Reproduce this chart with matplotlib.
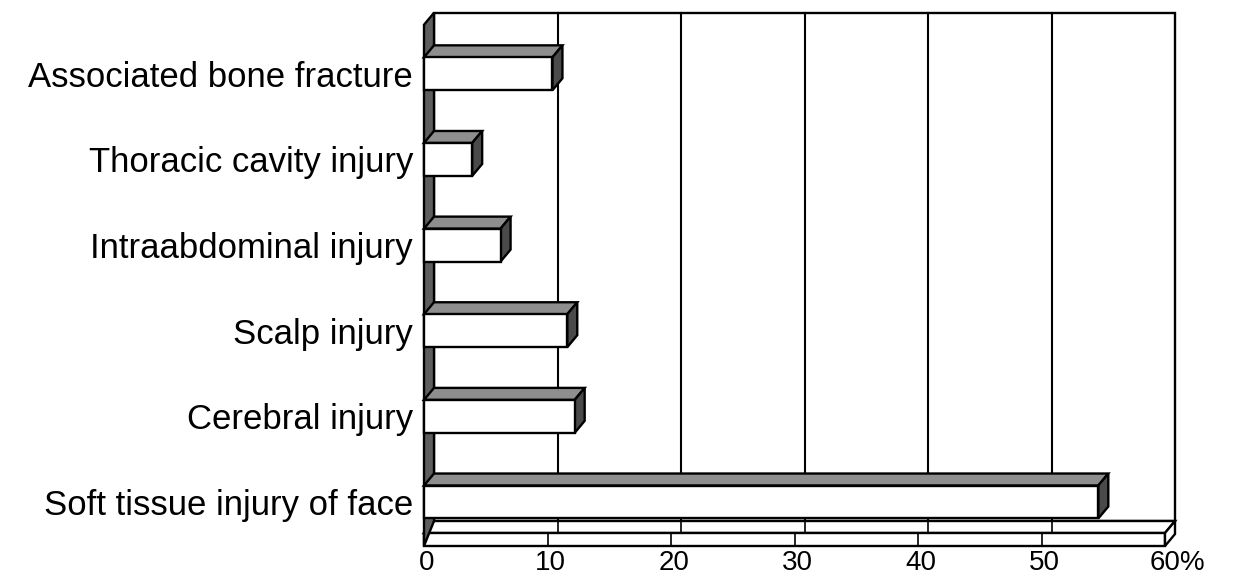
import matplotlib.pyplot as plt
from matplotlib.patches import Polygon, Rectangle

plt.rcParams['font.family'] = ['Liberation Sans', 'DejaVu Sans']

# Data (bottom to top)
categories = ['Soft tissue injury of face', 'Cerebral injury', 'Scalp injury',
              'Intraabdominal injury', 'Thoracic cavity injury', 'Associated bone fracture']
values = [54.6, 12.2, 11.6, 6.2, 3.9, 10.4]
tick_vals = [0, 10, 20, 30, 40, 50, 60]
tick_labels = ['0', '10', '20', '30', '40', '50', '60%']

# 3D look
DX, DY = 0.81, 0.14         # depth offset in data units
bar_h = 0.385
floor_y = -0.362
slab = 0.152
wall_top = 5.713
xmax = 60

fig = plt.figure(figsize=(12.37, 5.8), dpi=100)
ax = fig.add_axes([424 / 1237, 47 / 580, 741 / 1237, 502 / 580])
ax.set_xlim(0, xmax)
ax.set_ylim(floor_y, 5.5)
ax.axis('off')

lw = 1.7

def poly(pts, fc, z):
    ax.add_patch(Polygon(pts, closed=True, facecolor=fc, edgecolor='black',
                         linewidth=lw, zorder=z, clip_on=False))

# back wall
ax.add_patch(Rectangle((DX, floor_y + DY), xmax, wall_top - floor_y - DY,
                       facecolor='white', edgecolor='black', linewidth=lw,
                       zorder=1, clip_on=False))
for v in tick_vals[1:-1]:
    ax.plot([v + DX, v + DX], [floor_y + DY, wall_top], color='black',
            linewidth=1.5, zorder=1.5, clip_on=False)

# floor top face and slab
poly([(0, floor_y), (xmax, floor_y), (xmax + DX, floor_y + DY), (DX, floor_y + DY)], 'white', 2)
poly([(0, floor_y - slab), (xmax, floor_y - slab), (xmax, floor_y), (0, floor_y)], 'white', 2)
poly([(xmax, floor_y - slab), (xmax + DX, floor_y - slab + DY),
      (xmax + DX, floor_y + DY), (xmax, floor_y)], 'white', 2)
for v in tick_vals[1:-1]:
    ax.plot([v + DX, v + DX], [floor_y, floor_y + DY], color='black',
            linewidth=1.2, zorder=2.5, clip_on=False)
    ax.plot([v, v], [floor_y - slab, floor_y], color='black',
            linewidth=1.2, zorder=2.5, clip_on=False)

# left wall
poly([(0, floor_y - slab), (0, wall_top - DY), (DX, wall_top), (DX, floor_y + DY)], '#5e5e5e', 3)

# bars
for i, v in enumerate(values):
    lo, hi = i - bar_h / 2, i + bar_h / 2
    poly([(0, hi), (v, hi), (v + DX, hi + DY), (DX, hi + DY)], '#8e8e8e', 4)
    poly([(v, lo), (v, hi), (v + DX, hi + DY), (v + DX, lo + DY)], '#4a4a4a', 4)
    ax.add_patch(Rectangle((0, lo), v, bar_h, facecolor='white', edgecolor='black',
                           linewidth=lw, zorder=5, clip_on=False))
    ax.text(-0.9, i - 0.15, categories[i], ha='right', va='baseline',
            fontsize=25, color='black', clip_on=False)

# x tick labels
for v, lab in zip(tick_vals, tick_labels):
    xpos = v + 0.25 if lab != '60%' else v + 1.0
    ax.text(xpos, floor_y - slab - 0.2, lab, ha='center', va='center',
            fontsize=20, color='black', clip_on=False)

fig.savefig('out.png', dpi=100)
